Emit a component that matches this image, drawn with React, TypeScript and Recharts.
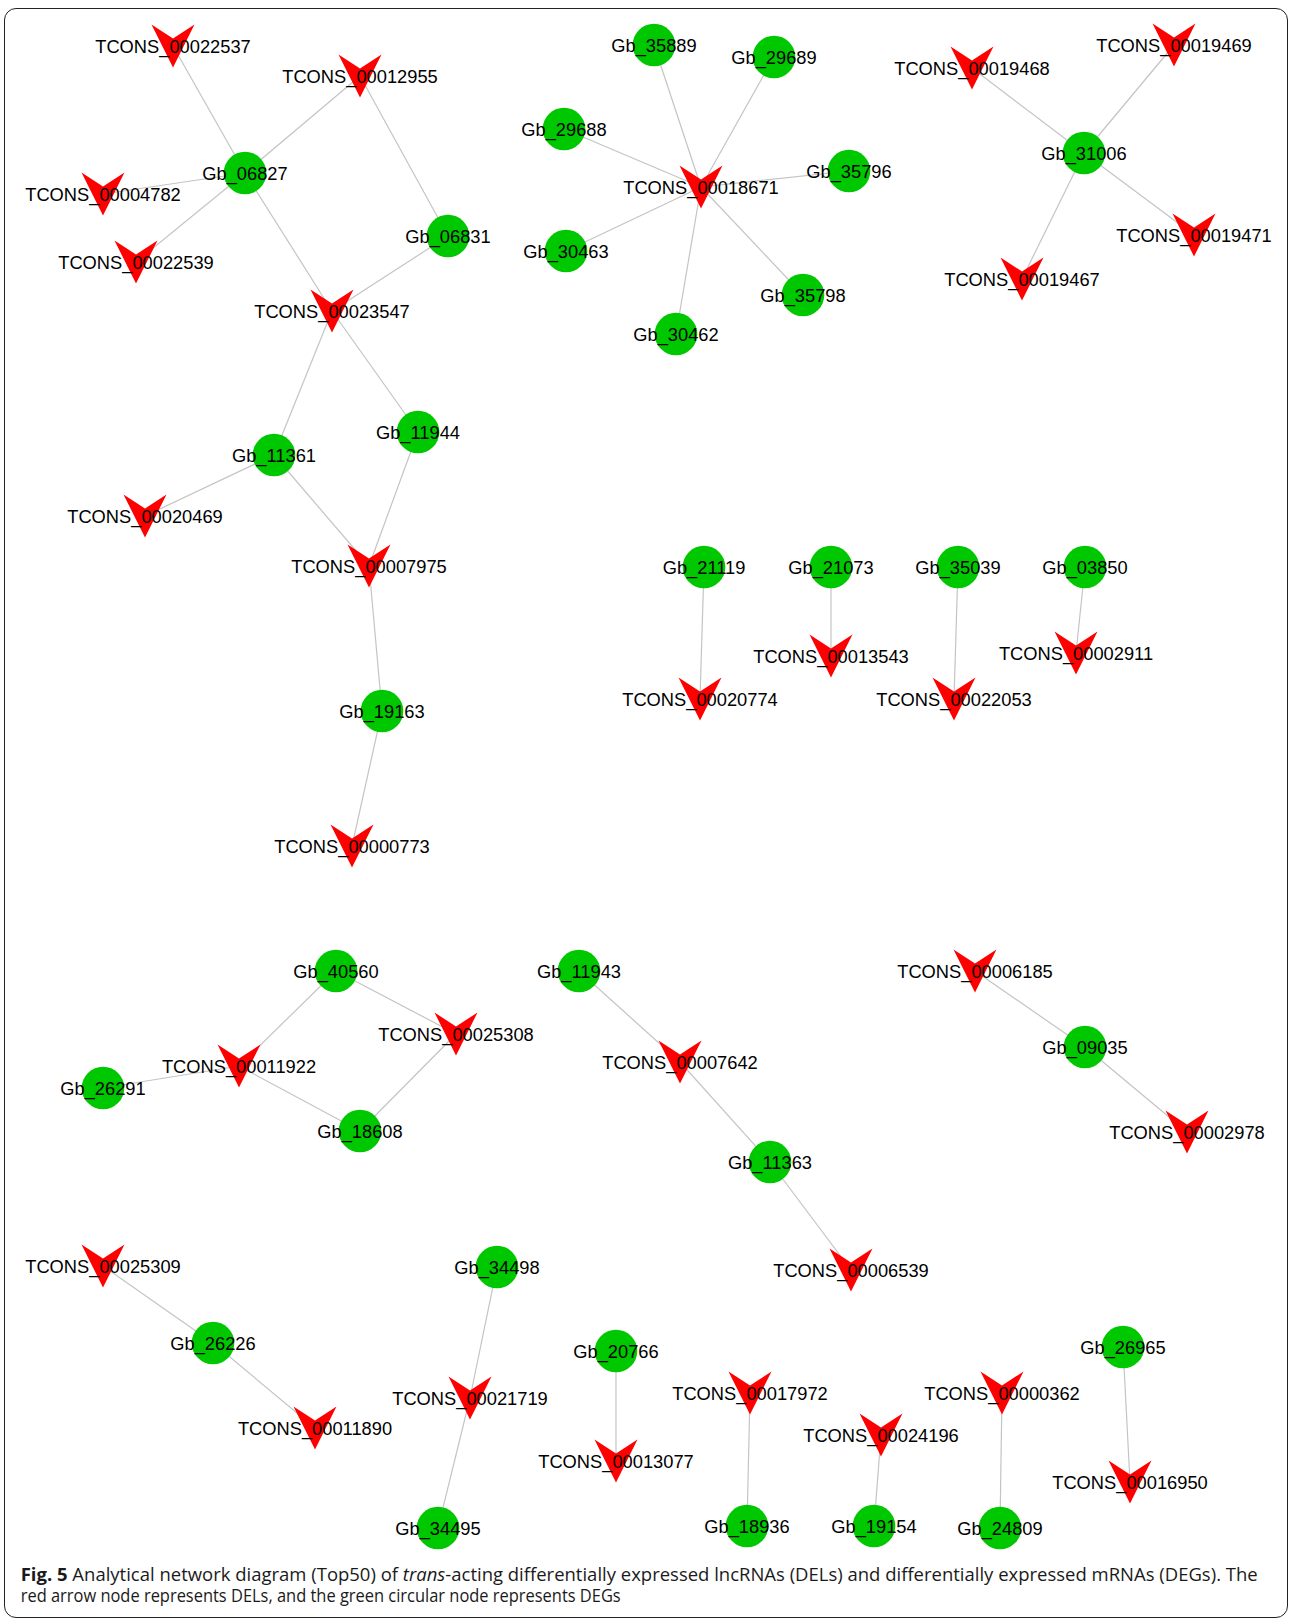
import React from 'react'
import { ScatterChart, Scatter, XAxis, YAxis } from 'recharts'

// DEL (lncRNA) nodes, laid out in pixel space
const delIds = [
  'TCONS_00022537', 'TCONS_00012955', 'TCONS_00004782', 'TCONS_00022539', 'TCONS_00023547',
  'TCONS_00020469', 'TCONS_00007975', 'TCONS_00000773', 'TCONS_00018671', 'TCONS_00019468',
  'TCONS_00019469', 'TCONS_00019471', 'TCONS_00019467', 'TCONS_00020774', 'TCONS_00013543',
  'TCONS_00022053', 'TCONS_00002911', 'TCONS_00025308', 'TCONS_00011922', 'TCONS_00007642',
  'TCONS_00006539', 'TCONS_00006185', 'TCONS_00002978', 'TCONS_00025309', 'TCONS_00011890',
  'TCONS_00021719', 'TCONS_00013077', 'TCONS_00017972', 'TCONS_00024196', 'TCONS_00000362',
  'TCONS_00016950',
]
const delX = [
  173, 360, 103, 136, 332, 145, 369, 352, 701, 972,
  1174, 1194, 1022, 700, 831, 954, 1076, 456, 239, 680,
  851, 975, 1187, 103, 315, 470, 616, 750, 881, 1002,
  1130,
]
const delY = [
  46, 76, 194, 262, 311, 516, 566, 846, 187, 68,
  45, 235, 279, 699, 656, 699, 653, 1034, 1066, 1062,
  1270, 971, 1132, 1266, 1428, 1398, 1461, 1393, 1435, 1393,
  1482,
]

// DEG (mRNA) nodes
const degIds = [
  'Gb_06827', 'Gb_06831', 'Gb_11361', 'Gb_11944', 'Gb_19163', 'Gb_35889', 'Gb_29689',
  'Gb_29688', 'Gb_35796', 'Gb_30463', 'Gb_35798', 'Gb_30462', 'Gb_31006', 'Gb_21119',
  'Gb_21073', 'Gb_35039', 'Gb_03850', 'Gb_40560', 'Gb_26291', 'Gb_18608', 'Gb_11943',
  'Gb_11363', 'Gb_09035', 'Gb_26226', 'Gb_34498', 'Gb_34495', 'Gb_20766', 'Gb_18936',
  'Gb_19154', 'Gb_24809', 'Gb_26965',
]
const degX = [
  245, 448, 274, 418, 382, 654, 774, 564, 849, 566, 803, 676, 1084, 704,
  831, 958, 1085, 336, 103, 360, 579, 770, 1085, 213, 497, 438, 616, 747,
  874, 1000, 1123,
]
const degY = [
  173, 236, 455, 432, 711, 45, 57, 129, 171, 251, 295, 334, 153, 567,
  567, 567, 567, 971, 1088, 1131, 971, 1162, 1047, 1343, 1267, 1528, 1351, 1526,
  1526, 1528, 1347,
]

// interactions: DEL -> DEG
const edgeFrom = [
  'TCONS_00022537', 'TCONS_00012955', 'TCONS_00004782', 'TCONS_00022539', 'TCONS_00023547',
  'TCONS_00012955', 'TCONS_00023547', 'TCONS_00023547', 'TCONS_00023547', 'TCONS_00020469',
  'TCONS_00007975', 'TCONS_00007975', 'TCONS_00007975', 'TCONS_00000773',
  'TCONS_00018671', 'TCONS_00018671', 'TCONS_00018671', 'TCONS_00018671', 'TCONS_00018671',
  'TCONS_00018671', 'TCONS_00018671',
  'TCONS_00019468', 'TCONS_00019469', 'TCONS_00019471', 'TCONS_00019467',
  'TCONS_00020774', 'TCONS_00013543', 'TCONS_00022053', 'TCONS_00002911',
  'TCONS_00011922', 'TCONS_00025308', 'TCONS_00011922', 'TCONS_00011922', 'TCONS_00025308',
  'TCONS_00007642', 'TCONS_00007642', 'TCONS_00006539',
  'TCONS_00006185', 'TCONS_00002978',
  'TCONS_00025309', 'TCONS_00011890', 'TCONS_00021719', 'TCONS_00021719', 'TCONS_00013077',
  'TCONS_00017972', 'TCONS_00024196', 'TCONS_00000362', 'TCONS_00016950',
]
const edgeTo = [
  'Gb_06827', 'Gb_06827', 'Gb_06827', 'Gb_06827', 'Gb_06827',
  'Gb_06831', 'Gb_06831', 'Gb_11361', 'Gb_11944', 'Gb_11361',
  'Gb_11361', 'Gb_11944', 'Gb_19163', 'Gb_19163',
  'Gb_35889', 'Gb_29689', 'Gb_29688', 'Gb_35796', 'Gb_30463',
  'Gb_35798', 'Gb_30462',
  'Gb_31006', 'Gb_31006', 'Gb_31006', 'Gb_31006',
  'Gb_21119', 'Gb_21073', 'Gb_35039', 'Gb_03850',
  'Gb_40560', 'Gb_40560', 'Gb_26291', 'Gb_18608', 'Gb_18608',
  'Gb_11943', 'Gb_11363', 'Gb_11363',
  'Gb_09035', 'Gb_09035',
  'Gb_26226', 'Gb_26226', 'Gb_34498', 'Gb_34495', 'Gb_20766',
  'Gb_18936', 'Gb_19154', 'Gb_24809', 'Gb_26965',
]

const W = 1290
const H = 1621

const delData = delIds.map((id, i) => ({ id, x: delX[i], y: delY[i] }))
const degData = degIds.map((id, i) => ({ id, x: degX[i], y: degY[i] }))
const pos: Record<string, { x: number; y: number }> = {}
delData.forEach((d) => (pos[d.id] = d))
degData.forEach((d) => (pos[d.id] = d))
const edges = edgeFrom.map((f, i) => [pos[f], pos[edgeTo[i]]])

const labelStyle = {
  fontFamily: '"Liberation Sans", Arial, sans-serif',
  fontSize: 18.3,
  fill: '#000',
}

const NoDot = () => <g />

function VeeNode(props: any) {
  const { cx, cy, payload } = props
  const r = 21.5
  const pts = `${cx - r},${cy - r} ${cx},${cy - 7.5} ${cx + r},${cy - r} ${cx},${cy + r}`
  return (
    <g>
      <polygon points={pts} fill="#ff0000" />
      <text x={cx} y={cy + 6.5} textAnchor="middle" style={labelStyle}>
        {payload.id}
      </text>
    </g>
  )
}

function CircleNode(props: any) {
  const { cx, cy, payload } = props
  return (
    <g>
      <circle cx={cx} cy={cy} r={21.3} fill="#00c800" />
      <text x={cx} y={cy + 6.5} textAnchor="middle" style={labelStyle}>
        {payload.id}
      </text>
    </g>
  )
}

export default function App() {
  return (
    <div style={{ position: 'absolute', left: 0, top: 0, width: W, height: H, background: '#fff' }}>
      <div
        style={{
          position: 'absolute',
          left: 4,
          top: 8,
          width: 1284,
          height: 1610,
          border: '1.5px solid #222',
          borderRadius: 12,
          boxSizing: 'border-box',
        }}
      />
      <div style={{ position: 'absolute', left: 0, top: 0 }}>
        <ScatterChart width={W} height={H} margin={{ top: 0, right: 0, bottom: 0, left: 0 }}>
          <XAxis type="number" dataKey="x" domain={[0, W]} allowDataOverflow hide />
          <YAxis type="number" dataKey="y" domain={[0, H]} allowDataOverflow reversed hide />
          {edges.map((e, i) => (
            <Scatter
              key={`edge-${i}`}
              data={e}
              line={{ stroke: '#c4c4c4', strokeWidth: 1.2 }}
              shape={NoDot}
              isAnimationActive={false}
              legendType="none"
            />
          ))}
          <Scatter data={degData} shape={CircleNode} isAnimationActive={false} />
          <Scatter data={delData} shape={VeeNode} isAnimationActive={false} />
        </ScatterChart>
      </div>
      <svg
        width={W}
        height={H}
        style={{ position: 'absolute', left: 0, top: 0, pointerEvents: 'none' }}
      >
        <g style={{ fontFamily: '"Open Sans", sans-serif', fontSize: 17.5, fill: '#1a1a1a' }}>
          <text x={20.7} y={1581} textLength={1237} lengthAdjust="spacingAndGlyphs">
            <tspan fontWeight="bold">Fig. 5</tspan> Analytical network diagram (Top50) of{' '}
            <tspan fontStyle="italic">trans</tspan>-acting differentially expressed lncRNAs (DELs) and
            differentially expressed mRNAs (DEGs). The
          </text>
          <text x={20.7} y={1602} textLength={600} lengthAdjust="spacingAndGlyphs">
            red arrow node represents DELs, and the green circular node represents DEGs
          </text>
        </g>
      </svg>
    </div>
  )
}
